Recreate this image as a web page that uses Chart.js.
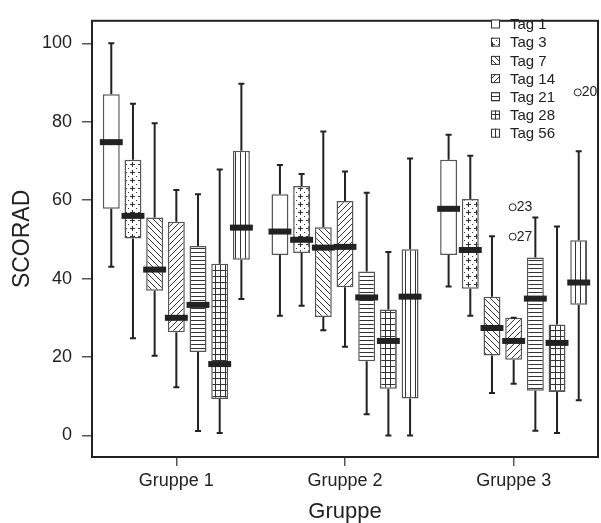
<!DOCTYPE html>
<html>
<head>
<meta charset="utf-8">
<script src="https://cdn.jsdelivr.net/npm/chart.js@4.4.1/dist/chart.umd.min.js"></script>
<style>
    html, body { margin: 0; padding: 0; background: #fff; }
</style>
</head>
<body>
<canvas id="grafico" width="601" height="523"></canvas>
<script>
    // Werte (Zeile = Tag, Spalte = Gruppe 1..3)
    var gruppen = ["Gruppe 1", "Gruppe 2", "Gruppe 3"];
    var tage = ["Tag 1", "Tag 3", "Tag 7", "Tag 14", "Tag 21", "Tag 28", "Tag 56"];
    var yTicks = [0, 20, 40, 60, 80, 100];

    var whiskerUnten = [
        [43, 30.5, 38], [24.8, 33.1, 30.5], [20.3, 26.8, 10.8], [12.3, 22.6, 13.2],
        [1.1, 5.4, 1.2], [0.6, 0, 0.6], [34.8, 0, 9]
    ];
    var q1 = [
        [57.8, 46, 46], [50.2, 46.5, 37.4], [36.9, 30.2, 20.4], [26.3, 37.8, 19.3],
        [21.3, 18.9, 11.4], [9.3, 11.9, 11.1], [44.8, 9.4, 33.3]
    ];
    var median = [
        [74.8, 52, 57.8], [56, 49.9, 47.3], [42.3, 47.9, 27.4], [30, 48.1, 24.1],
        [33.3, 35.2, 34.9], [18.2, 24.1, 23.6], [53, 35.4, 39]
    ];
    var q3 = [
        [87, 61.5, 70.3], [70.3, 63.6, 60.3], [55.6, 53.1, 35.4], [54.5, 59.8, 30],
        [48.3, 41.8, 45.4], [43.8, 32.1, 28.3], [72.6, 47.5, 49.8]
    ];
    var whiskerOben = [
        [100, 69, 76.7], [84.6, 66.7, 71.3], [79.6, 77.5, 50.8], [62.6, 67.3, 30],
        [61.5, 61.9, 55.6], [67.8, 46.8, 53.3], [89.7, 70.6, 72.5]
    ];

    // Ausreisser: Tag-Index, Gruppen-Index, Wert, Fallnummer
    var ausreisserTag = [3, 3, 6];
    var ausreisserGruppe = [2, 2, 2];
    var ausreisserWert = [58.2, 50.7, 87.5];
    var ausreisserLabel = ["23", "27", "20"];

    var SCHRIFT = "'Liberation Sans', Arial, Helvetica, sans-serif";
    var TINTE = "#222";

    var canvas = document.getElementById("grafico");
    var ctxHaupt = canvas.getContext("2d");

    /** Kleines Kachelmuster fuer die Schraffur einer Box. */
    function muster(art) {
        var c = document.createElement("canvas");
        var w = 6, h = 6;
        if (art === "plus") { w = 8; h = 8; }
        if (art === "hor") { w = 4; h = 4; }
        if (art === "vert") { w = 5; h = 5; }
        if (art === "gitter") { w = 5; h = 6; }
        c.width = w; c.height = h;
        var p = c.getContext("2d");
        p.fillStyle = "#fff";
        p.fillRect(0, 0, w, h);
        p.fillStyle = "#333";
        p.strokeStyle = "#333";
        p.lineWidth = 1;
        if (art === "plus") {
            p.fillRect(2, 4, 5, 1);
            p.fillRect(4, 2, 1, 5);
            p.fillRect(0, 0, 1, 1);
        } else if (art === "hor") {
            p.fillRect(0, 0, w, 1);
        } else if (art === "vert") {
            p.fillRect(0, 0, 1, h);
        } else if (art === "gitter") {
            p.fillRect(0, 0, w, 1);
            p.fillRect(0, 0, 1, h);
        } else if (art === "rueck" || art === "vor") {
            for (var k = -1; k <= 1; k++) {
                p.beginPath();
                if (art === "rueck") {
                    p.moveTo(k * w, 0); p.lineTo(k * w + w, h);
                } else {
                    p.moveTo(k * w, h); p.lineTo(k * w + w, 0);
                }
                p.stroke();
            }
        }
        if (art === "leer") { return "#fff"; }
        return ctxHaupt.createPattern(c, "repeat");
    }

    var muster7 = ["leer", "plus", "rueck", "vor", "hor", "gitter", "vert"].map(muster);

    var boxPlotExtras = {
        id: "boxPlotExtras",
        afterDatasetsDraw: function (chart) {
            var ctx = chart.ctx;
            var y = chart.scales.y;
            var area = chart.chartArea;
            ctx.save();

            tage.forEach(function (name, s) {
                var meta = chart.getDatasetMeta(s);
                meta.data.forEach(function (bar, g) {
                    var x = bar.x, w = bar.width;
                    var yLo = y.getPixelForValue(whiskerUnten[s][g]);
                    var yQ1 = y.getPixelForValue(q1[s][g]);
                    var yQ3 = y.getPixelForValue(q3[s][g]);
                    var yHi = y.getPixelForValue(whiskerOben[s][g]);
                    var yMed = y.getPixelForValue(median[s][g]);

                    ctx.strokeStyle = TINTE;
                    ctx.lineWidth = 2;
                    ctx.beginPath();
                    ctx.moveTo(x, yQ3); ctx.lineTo(x, yHi);
                    ctx.moveTo(x, yQ1); ctx.lineTo(x, yLo);
                    ctx.moveTo(x - 3, yHi); ctx.lineTo(x + 3, yHi);
                    ctx.moveTo(x - 3, yLo); ctx.lineTo(x + 3, yLo);
                    ctx.stroke();

                    ctx.fillStyle = TINTE;
                    ctx.fillRect(x - w / 2 - 3, yMed - 3, w + 6, 6);
                });
            });

            // Ausreisser mit Fallnummer
            ctx.font = "14px " + SCHRIFT;
            ctx.textBaseline = "middle";
            ctx.textAlign = "left";
            ausreisserWert.forEach(function (v, i) {
                var bar = chart.getDatasetMeta(ausreisserTag[i]).data[ausreisserGruppe[i]];
                var py = y.getPixelForValue(v);
                ctx.strokeStyle = TINTE;
                ctx.lineWidth = 1;
                ctx.beginPath();
                ctx.arc(bar.x - 1, py, 3.5, 0, Math.PI * 2);
                ctx.stroke();
                ctx.fillStyle = TINTE;
                ctx.fillText(ausreisserLabel[i], bar.x + 3, py);
            });

            // Rahmen um die Zeichenflaeche
            ctx.strokeStyle = TINTE;
            ctx.lineWidth = 2;
            ctx.strokeRect(area.left, area.top, area.right - area.left, area.bottom - area.top);

            // Legende oben rechts in der Zeichenflaeche
            ctx.font = "15px " + SCHRIFT;
            tage.forEach(function (name, s) {
                var zy = 24 + s * 18.2;
                ctx.fillStyle = muster7[s];
                ctx.fillRect(491, zy - 4.5, 9, 9);
                ctx.strokeStyle = "#333";
                ctx.lineWidth = 1;
                ctx.strokeRect(491.5, zy - 4, 8, 8);
                ctx.fillStyle = TINTE;
                ctx.fillText(name, 510, zy + 1);
            });

            ctx.restore();
        }
    };

    new Chart(ctxHaupt, {
        type: "bar",
        data: {
            labels: gruppen,
            datasets: tage.map(function (name, s) {
                return {
                    label: name,
                    data: gruppen.map(function (g, i) { return [q1[s][i], q3[s][i]]; }),
                    backgroundColor: muster7[s],
                    borderColor: "#555",
                    borderWidth: 1.5,
                    borderSkipped: false,
                    categoryPercentage: 0.9,
                    barPercentage: 0.78
                };
            })
        },
        options: {
            responsive: false,
            animation: false,
            layout: { padding: { top: 12, right: 3, left: 0, bottom: 0 } },
            plugins: { legend: { display: false }, tooltip: { enabled: false } },
            scales: {
                x: {
                    offset: true,
                    afterFit: function (scale) { scale.height = 66; },
                    grid: { offset: false, drawOnChartArea: false, tickLength: 9, color: "#555", lineWidth: 1.5 },
                    border: { display: false },
                    ticks: { padding: 4, color: TINTE, font: { family: SCHRIFT, size: 18 } },
                    title: {
                        display: true, text: "Gruppe", color: TINTE,
                        font: { family: SCHRIFT, size: 22, lineHeight: 1 }, padding: { top: 0, bottom: 0 }
                    }
                },
                y: {
                    min: -5.5,
                    max: 105.75,
                    afterBuildTicks: function (scale) {
                        scale.ticks = yTicks.map(function (v) { return { value: v }; });
                    },
                    afterFit: function (scale) { scale.width = 92; },
                    grid: { drawOnChartArea: false, tickLength: 10, color: "#555", lineWidth: 1.5 },
                    border: { display: false },
                    ticks: { padding: 10, color: TINTE, font: { family: SCHRIFT, size: 18 } },
                    title: {
                        display: true, text: "SCORAD", color: TINTE,
                        font: { family: SCHRIFT, size: 23, lineHeight: 1 }, padding: { top: 11, bottom: 0 }
                    }
                }
            }
        },
        plugins: [boxPlotExtras]
    });
</script>
</body>
</html>
